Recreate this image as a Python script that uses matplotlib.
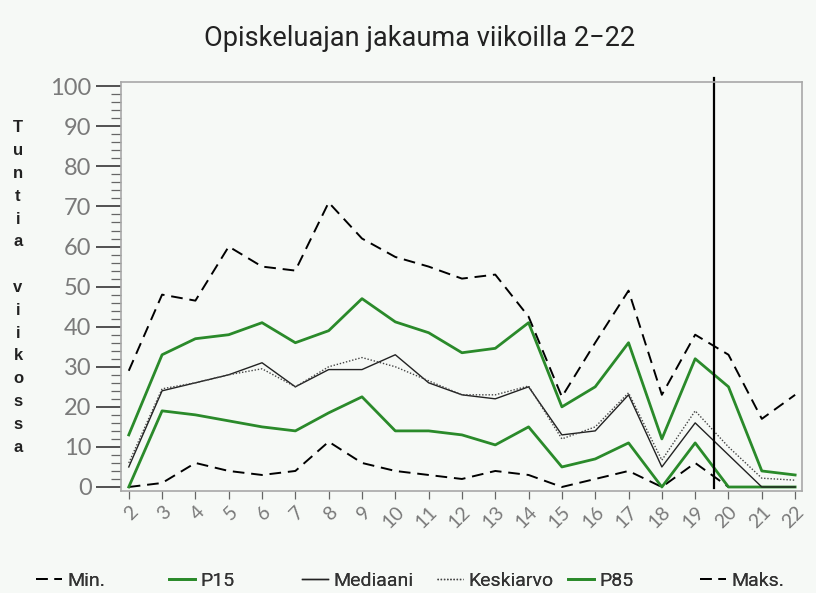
import numpy as np
import matplotlib.pyplot as plt
from matplotlib.ticker import MultipleLocator

# Viikot ja tunnusluvut (tuntia viikossa)
viikot = list(range(2, 23))
minimi    = [0, 1, 6, 4, 3, 4, 11.3, 6, 4, 3, 2, 4, 3, 0, 2, 4, 0, 6, 0, 0, 0]
p15       = [0, 19, 18, 16.5, 15, 14, 18.5, 22.5, 14, 14, 13, 10.5, 15, 5, 7, 11, 0, 11, 0, 0, 0]
mediaani  = [5, 24, 26, 28, 31, 25, 29.3, 29.3, 33, 26, 23, 22, 25, 13, 14, 23, 5, 16, 8, 0, 0]
keskiarvo = [6, 24.5, 26, 28, 29.5, 25, 30, 32.3, 30, 26.5, 23, 23, 25.2, 12, 15, 23.5, 6.7, 19, 10, 2.2, 1.7]
p85       = [13, 33, 37, 38, 41, 36, 39, 47, 41.2, 38.5, 33.5, 34.6, 41, 20, 25, 36, 12, 32, 25, 4, 3]
maksimi   = [29, 48, 46.5, 60, 55, 54, 71, 62, 57.4, 55, 52, 53, 42.5, 22.5, 36, 49, 23, 38, 33, 17, 23]
raja_viikko = 19.55

VIHREA = '#2a8a2a'
TAUSTA = '#f6f9f6'
KAPEA = ['Roboto', 'DejaVu Sans']

fig = plt.figure(figsize=(8.16, 5.93), dpi=100, facecolor=TAUSTA)
ax = fig.add_axes([0.148, 0.172, 0.835, 0.690], facecolor=TAUSTA)

l_min, = ax.plot(viikot, minimi, color='black', lw=1.4, ls=(0, (6, 3.5)), label='Min.')
l_p15, = ax.plot(viikot, p15, color=VIHREA, lw=2.0, label='P15')
l_med, = ax.plot(viikot, mediaani, color='#222222', lw=1.0, label='Mediaani')
l_ka,  = ax.plot(viikot, keskiarvo, color='#444444', lw=1.0, ls=(0, (1, 1.3)), label='Keskiarvo')
l_p85, = ax.plot(viikot, p85, color=VIHREA, lw=2.0, label='P85')
l_max, = ax.plot(viikot, maksimi, color='black', lw=1.4, ls=(0, (6, 3.5)), label='Maks.')

# pystyviiva viikon 19 jalkeen
ax.plot([raja_viikko, raja_viikko], [-0.3, 102.1], color='black', lw=1.6, clip_on=False)

ax.set_xlim(1.76, 22.21)
ax.set_ylim(-1, 101.1)

for s in ax.spines.values():
    s.set_color('#a8a8a8')
    s.set_linewidth(1.2)

ax.yaxis.set_major_locator(MultipleLocator(10))
ax.yaxis.set_minor_locator(MultipleLocator(2))
ax.set_xticks(viikot)
ax.set_xticklabels([str(v) for v in viikot], rotation=45, ha='right', va='top',
                   rotation_mode='anchor')
ax.tick_params(axis='y', which='major', direction='out', length=18, width=1.3,
               color='#444444', pad=3, labelsize=17, labelcolor='#7a7a7a')
ax.tick_params(axis='y', which='minor', direction='out', length=7, width=0.9,
               color='#666666')
ax.tick_params(axis='x', which='major', direction='out', length=6, width=0.9,
               color='#666666', pad=3, labelsize=14, labelcolor='#7a7a7a')
for lab in ax.get_yticklabels() + ax.get_xticklabels():
    lab.set_fontfamily(['Lato', 'DejaVu Sans'])

fig.text(420 / 816, 1 - 38 / 593, 'Opiskeluajan jakauma viikoilla 2\u221222',
         ha='center', va='center', fontsize=19.5, family=KAPEA, color='#222222')

# pystysuuntainen akselin otsikko kirjain kerrallaan
otsikko_y = 'Tuntia viikossa'
for i, ch in enumerate(otsikko_y):
    fig.text(18 / 816, 1 - (128 + i * 22.8) / 593, ch, ha='center', va='center',
             fontsize=12, fontweight='bold', family=['Liberation Sans', 'DejaVu Sans'],
             color='#222222')

# selite: jokainen merkinta omalle paikalleen
selite_x = [36, 169, 302, 437, 568, 700]
for viiva, x in zip([l_min, l_p15, l_med, l_ka, l_p85, l_max], selite_x):
    leg = fig.legend(handles=[viiva], loc='center left',
                     bbox_to_anchor=(x / 816, 1 - 581 / 593), frameon=False,
                     handlelength=1.35, handletextpad=0.25, borderpad=0, borderaxespad=0,
                     prop={'family': KAPEA, 'size': 14})
    for t in leg.get_texts():
        t.set_color('#333333')
    fig.add_artist(leg)

fig.savefig('out.png', dpi=100, facecolor=TAUSTA)
